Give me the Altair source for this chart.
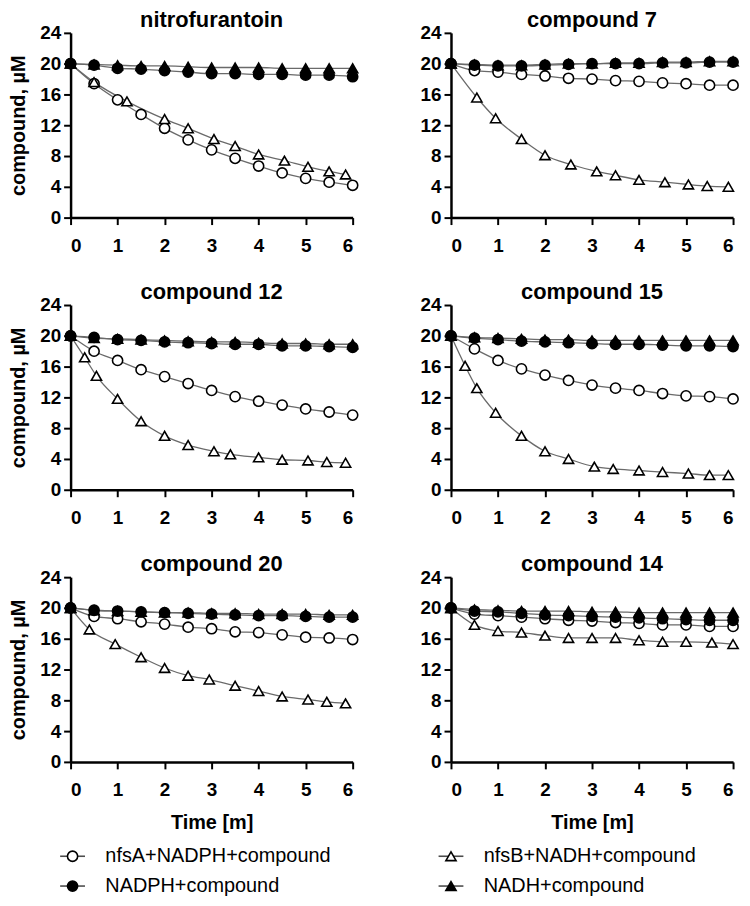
import altair as alt
import pandas as pd

FONT = "Liberation Sans"

SERIES = ["nfsA+NADPH+compound", "nfsB+NADH+compound", "NADPH+compound", "NADH+compound"]
SHAPES = ["circle", "triangle-up", "circle", "triangle-up"]
FILLS = ["white", "white", "black", "black"]

TIME = [0, 0.5, 1, 1.5, 2, 2.5, 3, 3.5, 4, 4.5, 5, 5.5, 6]

# nitrofurantoin
NITRO_NFSA = [20.0, 17.4, 15.3, 13.4, 11.6, 10.1, 8.8, 7.7, 6.7, 5.8, 5.1, 4.6, 4.2]
NITRO_NADPH = [20.0, 19.8, 19.4, 19.3, 19.1, 18.9, 18.7, 18.7, 18.6, 18.6, 18.5, 18.5, 18.3]
NITRO_NADH = [20.0, 19.9, 19.8, 19.7, 19.7, 19.6, 19.5, 19.5, 19.5, 19.4, 19.4, 19.4, 19.4]
NITRO_T_B = [0, 0.5, 1.2, 2.0, 2.5, 3.05, 3.5, 4.0, 4.55, 5.05, 5.5, 5.85]
NITRO_NFSB = [20.0, 17.6, 15.1, 12.8, 11.6, 10.2, 9.3, 8.2, 7.4, 6.6, 6.0, 5.6]

# compound 7
C7_NFSA = [20.0, 19.1, 18.9, 18.6, 18.4, 18.1, 18.0, 17.8, 17.7, 17.5, 17.4, 17.2, 17.2]
C7_NADPH = [20.0, 19.8, 19.7, 19.7, 19.8, 19.9, 20.0, 20.0, 20.0, 20.1, 20.1, 20.2, 20.2]
C7_NADH = [20.0, 19.9, 19.8, 19.8, 19.9, 20.0, 20.0, 20.1, 20.1, 20.2, 20.2, 20.3, 20.3]
C7_T_B = [0, 0.55, 0.95, 1.5, 2.0, 2.55, 3.1, 3.5, 4.0, 4.55, 5.05, 5.45, 5.9]
C7_NFSB = [20.0, 15.6, 12.9, 10.2, 8.1, 6.9, 6.0, 5.5, 4.9, 4.6, 4.3, 4.1, 4.0]

# compound 12
C12_NFSA = [20.0, 18.0, 16.8, 15.6, 14.7, 13.8, 12.9, 12.1, 11.5, 11.0, 10.5, 10.1, 9.7]
C12_NADPH = [20.0, 19.8, 19.5, 19.4, 19.2, 19.1, 19.0, 18.9, 18.9, 18.7, 18.7, 18.6, 18.5]
C12_NADH = [20.0, 19.7, 19.6, 19.5, 19.4, 19.3, 19.2, 19.2, 19.1, 19.0, 19.0, 18.9, 18.9]
C12_T_B = [0, 0.3, 0.55, 1.0, 1.5, 2.0, 2.5, 3.05, 3.4, 4.0, 4.5, 5.05, 5.45, 5.85]
C12_NFSB = [20.0, 17.2, 14.8, 11.8, 8.9, 7.0, 5.8, 5.0, 4.6, 4.2, 3.9, 3.8, 3.6, 3.5]

# compound 15
C15_NFSA = [20.0, 18.3, 16.8, 15.7, 14.9, 14.2, 13.6, 13.2, 12.9, 12.5, 12.2, 12.1, 11.8]
C15_NADPH = [20.0, 19.7, 19.5, 19.3, 19.2, 19.1, 19.0, 18.9, 18.9, 18.8, 18.7, 18.7, 18.6]
C15_NADH = [20.0, 19.8, 19.7, 19.6, 19.5, 19.5, 19.4, 19.4, 19.4, 19.4, 19.4, 19.4, 19.4]
C15_T_B = [0, 0.3, 0.55, 0.95, 1.5, 2.0, 2.5, 3.05, 3.45, 4.0, 4.5, 5.05, 5.5, 5.9]
C15_NFSB = [20.0, 16.1, 13.2, 10.0, 7.0, 5.0, 4.0, 3.0, 2.7, 2.5, 2.3, 2.1, 1.9, 1.9]

# compound 20
C20_NFSA = [20.0, 18.9, 18.6, 18.2, 17.9, 17.5, 17.3, 16.9, 16.8, 16.5, 16.2, 16.1, 15.9]
C20_NADPH = [20.0, 19.7, 19.6, 19.5, 19.4, 19.3, 19.2, 19.1, 19.0, 19.0, 18.9, 18.8, 18.8]
C20_NADH = [20.0, 19.7, 19.6, 19.5, 19.4, 19.4, 19.3, 19.3, 19.2, 19.2, 19.2, 19.1, 19.1]
C20_T_B = [0, 0.4, 0.95, 1.5, 2.0, 2.5, 2.95, 3.5, 4.0, 4.5, 5.05, 5.45, 5.85]
C20_NFSB = [20.0, 17.2, 15.3, 13.6, 12.2, 11.2, 10.7, 9.9, 9.2, 8.5, 8.1, 7.8, 7.6]

# compound 14
C14_NFSA = [20.0, 19.2, 19.0, 18.8, 18.6, 18.4, 18.3, 18.1, 18.0, 17.8, 17.8, 17.6, 17.6]
C14_NADPH = [20.0, 19.6, 19.5, 19.3, 19.1, 19.0, 18.9, 18.8, 18.7, 18.6, 18.5, 18.4, 18.4]
C14_NADH = [20.0, 19.8, 19.7, 19.6, 19.6, 19.6, 19.5, 19.5, 19.4, 19.4, 19.4, 19.4, 19.4]
C14_T_B = [0, 0.5, 1, 1.5, 2, 2.5, 3, 3.5, 4, 4.5, 5, 5.55, 6]
C14_NFSB = [20.0, 17.8, 17.0, 16.8, 16.4, 16.1, 16.1, 16.1, 15.8, 15.6, 15.6, 15.5, 15.3]

PANELS = ["nitrofurantoin", "compound 7", "compound 12", "compound 15", "compound 20", "compound 14"]
PANEL_DATA = {
    "nitrofurantoin": (NITRO_NFSA, NITRO_T_B, NITRO_NFSB, NITRO_NADPH, NITRO_NADH),
    "compound 7": (C7_NFSA, C7_T_B, C7_NFSB, C7_NADPH, C7_NADH),
    "compound 12": (C12_NFSA, C12_T_B, C12_NFSB, C12_NADPH, C12_NADH),
    "compound 15": (C15_NFSA, C15_T_B, C15_NFSB, C15_NADPH, C15_NADH),
    "compound 20": (C20_NFSA, C20_T_B, C20_NFSB, C20_NADPH, C20_NADH),
    "compound 14": (C14_NFSA, C14_T_B, C14_NFSB, C14_NADPH, C14_NADH),
}

rows = []
for p in PANELS:
    nfsa, tb, nfsb, nadph, nadh = PANEL_DATA[p]
    for t, v in zip(TIME, nfsa):
        rows.append({"panel": p, "series": SERIES[0], "time": t, "value": v, "ord": 0})
    for t, v in zip(tb, nfsb):
        rows.append({"panel": p, "series": SERIES[1], "time": t, "value": v, "ord": 1})
    for t, v in zip(TIME, nadph):
        rows.append({"panel": p, "series": SERIES[2], "time": t, "value": v, "ord": 2})
    for t, v in zip(TIME, nadh):
        rows.append({"panel": p, "series": SERIES[3], "time": t, "value": v, "ord": 3})
df = pd.DataFrame(rows)

PW, PH = 284, 186


def panel(name, y_title, x_title):
    base = alt.Chart(df).transform_filter(alt.datum.panel == name)
    xv = [0, 1, 2, 3, 4, 5, 6]
    yv = [0, 4, 8, 12, 16, 20, 24]
    x_axis = alt.Axis(values=xv, title="Time [m]") if x_title else alt.Axis(values=xv, title=None)
    y_axis = alt.Axis(values=yv, title="compound, \u00b5M") if y_title else alt.Axis(values=yv, title=None)
    x = alt.X("time:Q", scale=alt.Scale(domain=[0, 6], nice=False), axis=x_axis)
    y = alt.Y("value:Q", scale=alt.Scale(domain=[0, 24], nice=False), axis=y_axis)
    lines = base.mark_line(color="#6a6a6a", strokeWidth=1.3, interpolate="monotone").encode(
        x=x, y=y, detail="series:N"
    )
    pts = base.mark_point(filled=True, size=105, stroke="black", strokeWidth=1.6, opacity=1).encode(
        x=x,
        y=y,
        shape=alt.Shape("series:N", scale=alt.Scale(domain=SERIES, range=SHAPES), legend=None),
        fill=alt.Fill("series:N", scale=alt.Scale(domain=SERIES, range=FILLS), legend=None),
        order=alt.Order("ord:Q"),
    )
    return alt.layer(lines, pts).properties(
        width=PW,
        height=PH,
        title=alt.TitleParams(name, font=FONT, fontSize=22, fontWeight="bold", color="black", offset=-8),
    )


grid = alt.vconcat(
    alt.hconcat(panel(PANELS[0], True, False), panel(PANELS[1], False, False), spacing=58),
    alt.hconcat(panel(PANELS[2], True, False), panel(PANELS[3], False, False), spacing=58),
    alt.hconcat(panel(PANELS[4], True, True), panel(PANELS[5], False, True), spacing=58),
    spacing=26,
)

# legend built from the series list
LEG_COL = [0, 1, 0, 1]
LEG_ROW = [0, 0, 1, 1]
leg_df = pd.DataFrame({"series": SERIES, "col": LEG_COL, "row": LEG_ROW})
lx = alt.X("col:Q", scale=alt.Scale(domain=[0, 1], range=[2, 383]), axis=None)
ly = alt.Y("row:Q", scale=alt.Scale(domain=[0, 1], range=[8, 38]), axis=None)
leg_base = alt.Chart(leg_df)
leg_dash = leg_base.mark_tick(orient="horizontal", size=25, thickness=1.6, color="black").encode(x=lx, y=ly)
leg_pts = leg_base.mark_point(filled=True, size=105, stroke="black", strokeWidth=1.6, opacity=1).encode(
    x=lx,
    y=ly,
    shape=alt.Shape("series:N", scale=alt.Scale(domain=SERIES, range=SHAPES), legend=None),
    fill=alt.Fill("series:N", scale=alt.Scale(domain=SERIES, range=FILLS), legend=None),
)
leg_txt = leg_base.mark_text(align="left", baseline="middle", dx=33, font=FONT, fontSize=20, color="black").encode(
    x=lx, y=ly, text="series:N"
)
legend = alt.layer(leg_dash, leg_pts, leg_txt).properties(width=600, height=40)

chart = (
    alt.vconcat(grid, legend, spacing=14)
    .properties(padding={"left": 0, "top": -2, "right": 0, "bottom": 0})
    .configure_view(stroke=None)
    .configure_axis(
        grid=False,
        domainColor="black",
        domainWidth=2.5,
        tickColor="black",
        tickWidth=2,
        tickSize=7,
        labelFont=FONT,
        labelFontSize=19,
        labelFontWeight="bold",
        labelColor="black",
        titleFont=FONT,
        titleFontSize=20,
        titleFontWeight="bold",
        titleColor="black",
    )
    .configure_axisY(titlePadding=11, labelPadding=3)
    .configure_axisX(titlePadding=13, labelPadding=12)
)

chart.save("out.html", embed_options={"renderer": "svg", "actions": False})
